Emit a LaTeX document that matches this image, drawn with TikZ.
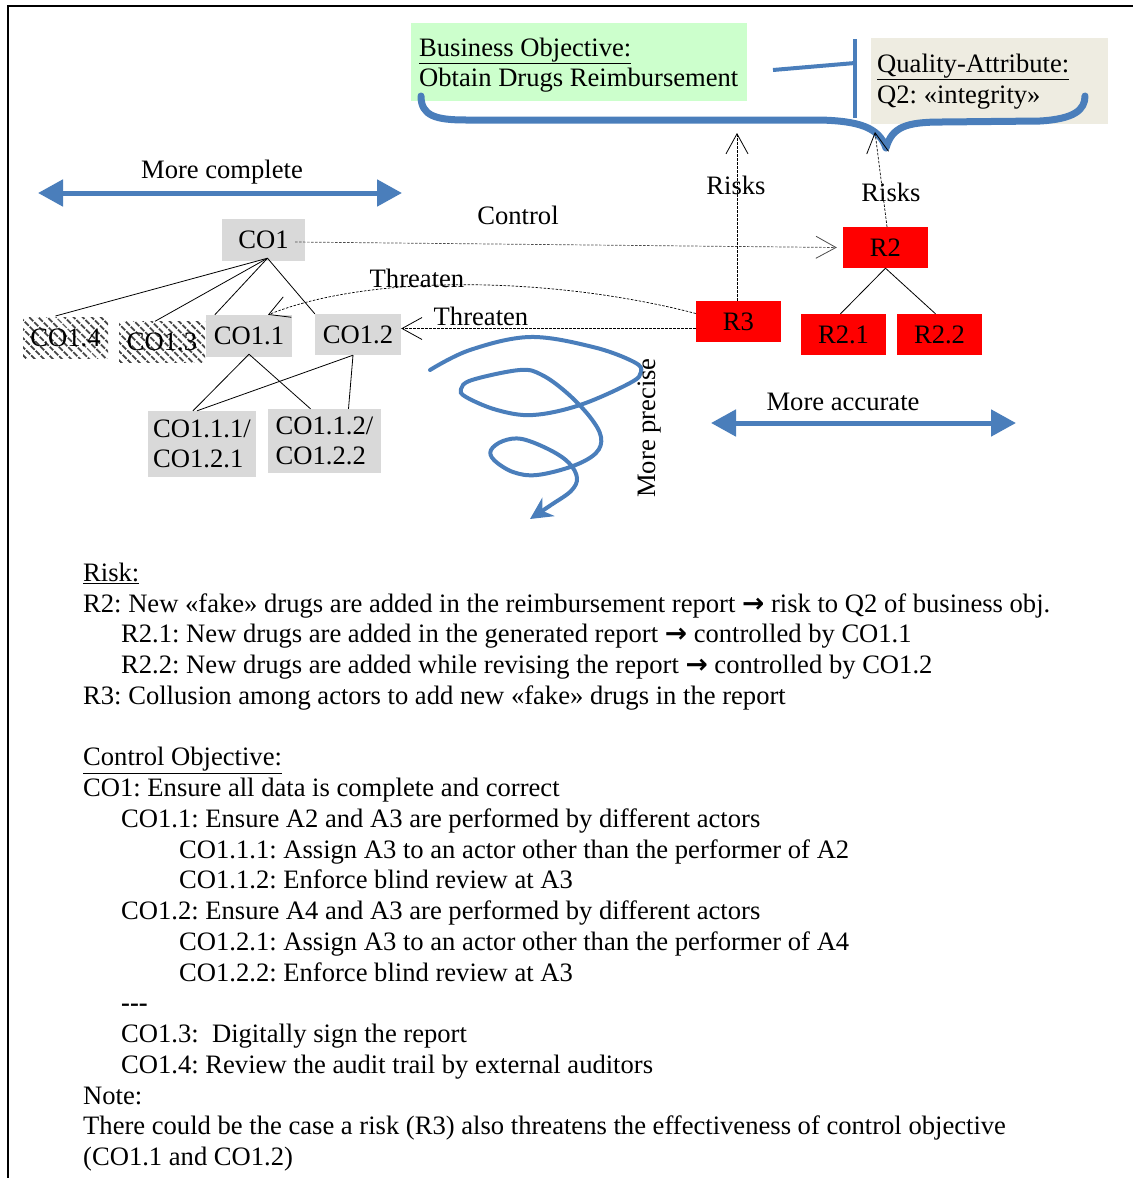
\documentclass[tikz,border=0pt]{standalone}
\usepackage{fontspec}
\setmainfont{Liberation Serif}
\newfontfamily\arrowfnt{DejaVu Sans}
\usetikzlibrary{arrows.meta,patterns.meta,calc}
\definecolor{myblue}{RGB}{74,126,187}
\definecolor{bogreen}{RGB}{204,255,204}
\definecolor{qabeige}{RGB}{238,236,225}
\definecolor{cogray}{RGB}{217,217,217}
\newcommand\mainsz{\fontsize{26.6}{30.74}\selectfont\frenchspacing}
\newcommand\rarr{{\arrowfnt\bfseries →}}
\tikzset{
  txt/.style={anchor=base west, inner sep=0pt, font=\mainsz},
  lbl/.style={inner sep=0pt, font=\mainsz},
  cobox/.style={fill=cogray, inner sep=0pt, font=\mainsz},
  rbox/.style={fill=red, inner sep=0pt, font=\mainsz, minimum width=85pt, minimum height=41pt},
  hatchbox/.style={pattern={Lines[angle=-45,distance=6.5pt,line width=2pt]}, pattern color=black!75, inner sep=0pt, font=\mainsz, minimum width=86pt, minimum height=41pt},
  treeline/.style={line width=0.8pt},
  dashconn/.style={dash pattern=on 2.5pt off 1.5pt, line width=0.7pt, -{Straight Barb[length=20pt,width=22pt,line width=0.8pt]}},
  bluearrow/.style={line width=5pt, color=myblue, {Triangle[length=25pt,width=26pt]}-{Triangle[length=25pt,width=26pt]}},
}
\begin{document}
\begin{tikzpicture}[x=1pt,y=-1pt]
\useasboundingbox (0,0) rectangle (1133,1178);
% frame
\draw[line width=2pt] (8,1178) -- (8,6) -- (1133,6);

% business objective and quality attribute boxes
\node[fill=bogreen, minimum width=336pt, minimum height=78pt, inner sep=0pt] (bo) at (579,62) {};
\node[txt] (bo1) at (419,56) {\underline{Business Objective:}};
\node[txt] (bo2) at (419,86) {Obtain Drugs Reimbursement};
\node[fill=qabeige, minimum width=237pt, minimum height=86pt, inner sep=0pt] (qa) at (989.5,81) {};
\node[txt] (qa1) at (877,72.5) {\underline{Quality-Attribute:}};
\node[txt] (qa2) at (877,103) {Q2: «integrity»};

% brace
\draw[myblue, line width=7pt, line cap=round, line join=round]
  (421,96) .. controls (421,116) and (436,120) .. (466,120) -- (820,120)
  .. controls (858,121) and (879,127) .. (886,148)
  .. controls (892,127) and (906,122) .. (942,122) -- (1040,121)
  .. controls (1074,119) and (1085,110) .. (1085,96);
\coordinate (stemtop) at (855,39);
\coordinate (stembot) at (855,118);
\coordinate (linkend) at (773,70);
\draw[myblue, line width=4pt] (stemtop) -- (stembot);
\draw[myblue, line width=4pt] (linkend) -- (855,63);

% risk nodes
\node[rbox] (r2) at (885.5,247.5) {R2};
\node[rbox] (r3) at (738.5,321.5) {R3};
\node[rbox] (r21) at (843.5,334.5) {R2.1};
\node[rbox] (r22) at (939.5,334.5) {R2.2};
\draw[treeline] (r2.south) -- ([xshift=-3pt]r21.north);
\draw[treeline] (r2.south) -- ([xshift=-4pt]r22.north);

% control objective nodes
\node[cobox, minimum width=83pt, minimum height=42pt] (co1) at (263.5,240) {CO1};
\node[cobox, minimum width=86pt, minimum height=42pt] (co11) at (249,336) {CO1.1};
\node[cobox, minimum width=86pt, minimum height=41pt] (co12) at (358,334.5) {CO1.2};
\node[hatchbox, minimum width=85pt] (co14) at (65.5,337.5) {CO1.4};
\node[hatchbox] (co13) at (162,342) {CO1.3};
\node[cobox, minimum width=108pt, minimum height=66pt, align=left] (co111) at (202,444) {CO1.1.1/\\CO1.2.1};
\node[cobox, minimum width=113pt, minimum height=64pt, align=left] (co112) at (324.5,441) {CO1.1.2/\\CO1.2.2};

\coordinate (co1b) at ([xshift=4pt,yshift=3pt]co1.south);
\draw[treeline] (co1b) -- ([xshift=-10pt]co14.north);
\draw[treeline] (co1b) -- ([xshift=-7pt]co13.north);
\draw[treeline] (co1b) -- ([xshift=9pt]co11.north west);
\draw[treeline] (co1b) -- (co12.north west);
\draw[treeline] ([yshift=3pt]co11.south) -- ([xshift=-9pt]co111.north);
\draw[treeline] ([yshift=3pt]co11.south) -- ([xshift=-14pt]co112.north);
\draw[treeline] ([xshift=-5pt]co12.south) -- ([xshift=-5pt]co111.north);
\draw[treeline] ([xshift=-5pt]co12.south) -- ([xshift=24pt]co112.north);

% connectors
\draw[dashconn, black!70] ([xshift=-10pt,yshift=-2pt]co1.east) -- ([xshift=-6pt]r2.west);
\node[lbl] (lcontrol) at (518,215) {Control};
\coordinate (riskA) at (737,133);
\coordinate (riskB) at (875,132);
\draw[dashconn] ([xshift=-1.5pt]r3.north) -- (riskA);
\node[lbl] (lrisk1) at (736,185) {Risks};
\draw[dashconn] ([xshift=1.5pt]r2.north) -- (riskB);
\node[lbl] (lrisk2) at (891,192) {Risks};
\draw[dashconn] ([yshift=8pt]r3.west) .. controls (560,278) and (375,272) .. ([xshift=19pt]co11.north);
\node[lbl] (lthr1) at (417,278) {Threaten};
\draw[dashconn] ([yshift=-7pt]r3.west) -- ([yshift=-7pt]r3.west -| co12.east);
\node[lbl] (lthr2) at (481,316) {Threaten};

% dimension arrows
\coordinate (mcl) at (38,193);
\coordinate (mcr) at (402,193);
\draw[bluearrow] (mcl) -- (mcr);
\node[lbl] (lmc) at (222,172) {More complete};
\coordinate (mal) at (711,423);
\coordinate (mar) at (1016,423);
\draw[bluearrow] (mal) -- (mar);
\node[lbl] (lma) at (843,402) {More accurate};

% spiral
\draw[myblue, line width=4pt, line cap=round, -{Stealth[length=22pt,width=22pt]}]
  plot[smooth, tension=0.6] coordinates {(430,370) (470,350) (530,337) (593,347) (634,362) (641,372) (630,383) (580,405) (533,415) (497,410) (466,397) (461,389) (472,380) (520,370) (542,375) (567,393) (590,417) (601,437) (596,453) (573,466) (537,475) (513,472) (494,460) (491,450) (503,441) (522,439) (550,450) (569,463) (577,478) (571,491) (551,505) (530,519)};
\node[lbl, rotate=90] (lmp) at (650,428) {More precise};

% text block
\node[txt] (t0) at (83,{581.5+30.74*0}) {\underline{Risk:}};
\node[txt] (t1) at (83,{581.5+30.74*1}) {R2: New «fake» drugs are added in the reimbursement report \rarr{} risk to Q2 of business obj.};
\node[txt] (t2) at (121,{581.5+30.74*2}) {R2.1: New drugs are added in the generated report \rarr{} controlled by CO1.1};
\node[txt] (t3) at (121,{581.5+30.74*3}) {R2.2: New drugs are added while revising the report \rarr{} controlled by CO1.2};
\node[txt] (t4) at (83,{581.5+30.74*4}) {R3: Collusion among actors to add new «fake» drugs in the report};
\node[txt] (t6) at (83,{581.5+30.74*6}) {\underline{Control Objective:}};
\node[txt] (t7) at (83,{581.5+30.74*7}) {CO1: Ensure all data is complete and correct};
\node[txt] (t8) at (121,{581.5+30.74*8}) {CO1.1: Ensure A2 and A3 are performed by different actors};
\node[txt] (t9) at (179,{581.5+30.74*9}) {CO1.1.1: Assign A3 to an actor other than the performer of A2};
\node[txt] (t10) at (179,{581.5+30.74*10}) {CO1.1.2: Enforce blind review at A3};
\node[txt] (t11) at (121,{581.5+30.74*11}) {CO1.2: Ensure A4 and A3 are performed by different actors};
\node[txt] (t12) at (179,{581.5+30.74*12}) {CO1.2.1: Assign A3 to an actor other than the performer of A4};
\node[txt] (t13) at (179,{581.5+30.74*13}) {CO1.2.2: Enforce blind review at A3};
\node[txt] (t14) at (121,{581.5+30.74*14}) {\textbf{-{}-{}-}};
\node[txt] (t15) at (121,{581.5+30.74*15}) {CO1.3: \ Digitally sign the report};
\node[txt] (t16) at (121,{581.5+30.74*16}) {CO1.4: Review the audit trail by external auditors};
\node[txt] (t17) at (83,{581.5+30.74*17}) {Note:};
\node[txt] (t18) at (83,{581.5+30.74*18}) {There could be the case a risk (R3) also threatens the effectiveness of control objective};
\node[txt] (t19) at (83,{581.5+30.74*19}) {(CO1.1 and CO1.2)};
\end{tikzpicture}
\end{document}
